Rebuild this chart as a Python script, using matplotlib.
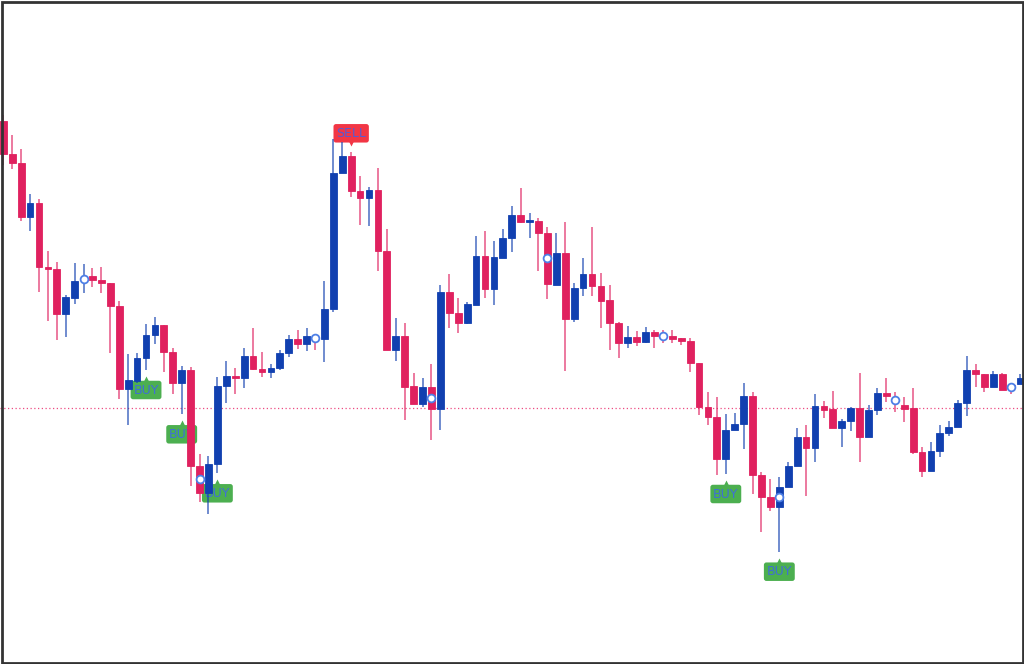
import matplotlib
matplotlib.use("Agg")
import matplotlib.pyplot as plt
import numpy as np
from matplotlib.patches import Rectangle
from matplotlib.transforms import offset_copy

# price readings, one per bar
opens = [579.3, 546, 537.3, 483.3, 497, 433.3, 431.3, 386, 402.3, 421,
         424, 419.7, 417.3, 394, 310.7, 319.3, 341.7, 365, 375, 347.7,
         316.7, 330, 234.3, 206.7, 236, 314, 324, 321.7, 344, 330.7,
         328.3, 331.7, 347.3, 360.7, 356, 362.7, 360.7, 390.7, 527.3, 544,
         509.3, 501.7, 510, 449.3, 350, 364, 314, 295.7, 313.3, 290.7,
         408.3, 387.3, 377.3, 395, 444.3, 411, 442.3, 461.7, 485, 478.3,
         479, 467.3, 415, 447.3, 380.7, 411.7, 425.7, 414, 400, 376.7,
         356.7, 362.7, 357.7, 367.7, 364.3, 364, 361.7, 359.3, 337.3, 293.3,
         283.3, 240.7, 270, 276, 304.3, 225, 203.3, 192.7, 213.3, 234,
         262.7, 251.7, 294, 290.7, 271.7, 279, 291.7, 262.7, 290, 307.3,
         300.3, 295, 291.7, 247.7, 229, 249.3, 266.7, 272.7, 297.3, 330,
         326, 313.3, 325.7, 313.5, 316]
highs = [585, 565, 551, 506, 501, 449, 438, 405, 436.7, 436,
         432, 433.3, 417.3, 399, 345.7, 347.3, 376, 383.3, 375, 351.7,
         334.3, 333.3, 245.7, 244, 323.3, 339, 331.7, 351.7, 371.7, 347.7,
         336, 350, 365, 370, 371.7, 364, 419, 560.7, 558.3, 547.7,
         524, 513.3, 532.3, 470.7, 382.3, 376.7, 327.3, 322.3, 336, 415,
         425.7, 401.7, 398.3, 464, 469.3, 459, 470.7, 494, 511.7, 486.7,
         481.7, 472.7, 466.7, 477.7, 417.3, 442.3, 472.7, 426.7, 415, 378.3,
         374, 369, 373.3, 370, 370, 370, 361.7, 361.7, 337.3, 308.3,
         303.3, 286, 286.7, 316.7, 308.3, 228.3, 220.7, 223.3, 238.3, 271.7,
         275, 306, 299, 309, 281.3, 292.7, 326.7, 295, 311.7, 321.7,
         308.3, 302.7, 311.7, 252.7, 257.7, 275, 279.3, 300, 344, 336,
         326, 329.3, 327.3, 314, 325.7]
lows = [535, 531, 479.3, 469.3, 408.3, 379.3, 360, 362.7, 395.7, 407.3,
        413.3, 407.3, 347, 300.7, 275, 317, 330, 355.7, 328.3, 305.7,
        285.7, 214.3, 198.3, 186, 226.7, 296.7, 306, 311.7, 330, 322.7,
        321.7, 330, 343.3, 350.7, 349, 350, 338.3, 388.3, 527.3, 503.3,
        475, 474, 429.3, 350, 339.3, 280, 295.7, 293.3, 260, 270,
        372.3, 366.7, 376, 395, 402.3, 395, 442.3, 448.3, 477.3, 462.3,
        429.3, 400.7, 415, 329.3, 378.3, 404, 404, 371.7, 350, 341.7,
        351.7, 354.3, 356.7, 351.7, 357, 357.3, 355, 328.3, 285, 275,
        225, 226, 270, 251, 206, 167.7, 189.3, 148.3, 213.3, 234,
        204, 238.3, 281.7, 271.7, 253.3, 269.3, 238.3, 262.7, 285, 298.3,
        288.3, 278.3, 245.7, 223.3, 229, 243.3, 264.3, 272.7, 284, 313.3,
        307.7, 313.3, 310, 306, 316]
closes = [546, 537.3, 483.3, 497, 433.3, 431.3, 386, 403, 419, 421.3,
          420, 417.3, 394, 310.7, 320, 341.7, 365, 375, 347.7, 316.7,
          330, 234.3, 206.7, 236, 314, 324, 321.7, 344, 330.7, 328.3,
          332.3, 347.3, 360.7, 356, 364, 362, 390.7, 527.3, 544, 509.3,
          501.7, 510, 449.3, 350, 364, 313.3, 295.7, 313.3, 290.7, 408.3,
          387.3, 377.3, 395.7, 444.3, 411, 442.7, 462.3, 485, 478.3, 479.3,
          466.7, 415.7, 447.3, 380.7, 411.7, 425.7, 414, 399.3, 376.7, 356.7,
          362.7, 357.7, 367.7, 364.3, 364, 361, 359, 336.7, 293.3, 283.3,
          240.7, 270, 276, 304.3, 225, 203.3, 192.7, 213.3, 234, 262.7,
          251.7, 294, 290, 271.7, 279, 291.7, 263.3, 290, 307.3, 304.3,
          300, 290.7, 247.7, 229, 249.3, 266.7, 272.7, 297.3, 330, 326,
          313.3, 325.7, 310, 313.3, 321.7]

# hollow circle markers (every 13th bar)
circle_bars = [9, 22, 35, 48, 61, 74, 87, 100, 113]
circle_vals = [421.3, 220.7, 362.3, 301.7, 441.7, 364.3, 203.3, 300, 313.3]

buy_bars = [16, 20, 24, 81, 87]
sell_bars = [39]
ref_level = 292

RED = '#e0215f'
BLUE = '#1140b0'
GREEN = '#4caf50'
SELL_RED = '#f23645'

fig = plt.figure(figsize=(10.24, 6.64), dpi=100)
ax = fig.add_axes([0, 0, 1, 1])
ax.set_axis_off()

x = np.arange(len(opens))
o = np.array(opens)
h = np.array(highs)
l = np.array(lows)
c = np.array(closes)
up = c >= o
cols = np.where(up, BLUE, RED)

ax.axhline(ref_level, color='#e91e63', ls=(0, (1, 2)), lw=0.9, alpha=0.8, zorder=1)

ax.vlines(x, l, h, colors=cols, lw=1.3, alpha=0.65, zorder=2)
body_lo = np.minimum(o, c)
body_h = np.maximum(np.abs(c - o), 1.5)
for i in range(len(x)):
    ax.bar(x[i], body_h[i], bottom=body_lo[i], width=0.76, color=cols[i],
           edgecolor=cols[i], linewidth=0.6, alpha=1, zorder=3)

ax.plot(circle_bars, circle_vals, 'o', ms=5.6, mfc='white', mec='#4d7fe6',
        mew=1.3, ls='none', zorder=5)

# labels sit under the candles
for b in buy_bars:
    tr = offset_copy(ax.transData, fig=fig, x=0, y=-9, units='dots')
    ax.plot(b, l[b], marker='^', ms=4, color=GREEN, mec='none', transform=tr, zorder=1.5)
    ax.annotate('BUY', xy=(b, l[b]), xytext=(0, -20), textcoords='offset pixels',
                ha='center', va='center', fontsize=9, color='#3f6fd6',
                bbox=dict(boxstyle='round,pad=0.22,rounding_size=0.2', fc=GREEN, ec='none'),
                zorder=1.5)
for b in sell_bars:
    tr = offset_copy(ax.transData, fig=fig, x=0, y=9, units='dots')
    ax.plot(b, h[b], marker='v', ms=4, color=SELL_RED, mec='none', transform=tr, zorder=1.5)
    ax.annotate('SELL', xy=(b, h[b]), xytext=(0, 19), textcoords='offset pixels',
                ha='center', va='center', fontsize=9, color='#5a5ad0',
                bbox=dict(boxstyle='round,pad=0.22,rounding_size=0.2', fc=SELL_RED, ec='none'),
                zorder=1.5)

ax.set_xlim(-0.37, 114.43)
ax.set_ylim(36, 700)

fig.patches.append(Rectangle((1.5 / 1024, 1.5 / 664), 1 - 3 / 1024, 1 - 3 / 664,
                             transform=fig.transFigure, fill=False,
                             ec='#333333', lw=2, zorder=10))

fig.savefig('out.png', dpi=100, facecolor='white')
